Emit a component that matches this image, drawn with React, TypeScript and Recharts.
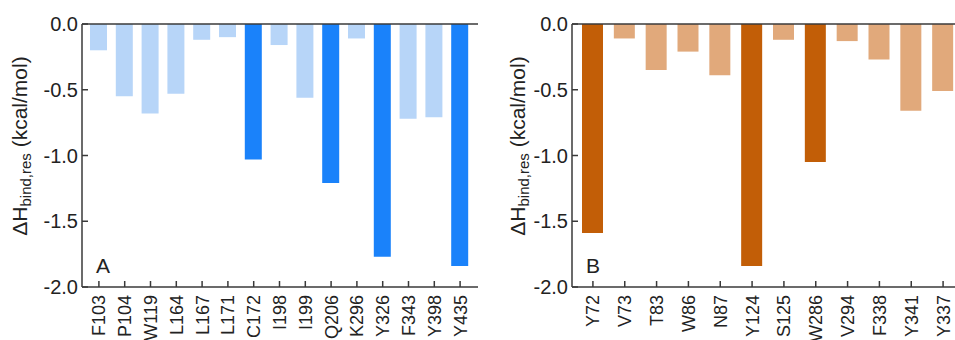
import { Bar, BarChart, Cell, ReferenceLine, XAxis, YAxis } from "recharts";

const residuesA = ["F103", "P104", "W119", "L164", "L167", "L171", "C172", "I198", "I199", "Q206", "K296", "Y326", "F343", "Y398", "Y435"];
const enthalpyA = [-0.2, -0.55, -0.68, -0.53, -0.12, -0.1, -1.03, -0.16, -0.56, -1.21, -0.11, -1.77, -0.72, -0.71, -1.84];
const hotA = ["C172", "Q206", "Y326", "Y435"];

const residuesB = ["Y72", "V73", "T83", "W86", "N87", "Y124", "S125", "W286", "V294", "F338", "Y341", "Y337"];
const enthalpyB = [-1.59, -0.11, -0.35, -0.21, -0.39, -1.84, -0.12, -1.05, -0.13, -0.27, -0.66, -0.51];
const hotB = ["Y72", "Y124", "W286"];

const yTicks = [0, -0.5, -1, -1.5, -2];

const FONT = '"Liberation Sans", Arial, sans-serif';
const AXIS = "#3a3a3a";
const TEXT = "#222";

function YTick({ x, y, payload }: any) {
  return (
    <g>
      <line x1={x} x2={x + 6} y1={y} y2={y} stroke={AXIS} strokeWidth={1.5} />
      <text x={x - 4} y={y} dy="0.36em" textAnchor="end" fontSize={20} fill={TEXT} fontFamily={FONT}>
        {Number(payload.value).toFixed(1)}
      </text>
    </g>
  );
}

function XTick({ x, y, payload }: any) {
  return (
    <g>
      <line x1={x} x2={x} y1={y} y2={y - 6} stroke={AXIS} strokeWidth={1.5} />
      <text
        x={x}
        y={y + 8}
        dy="0.36em"
        textAnchor="end"
        fontSize={18}
        fill={TEXT}
        fontFamily={FONT}
        transform={`rotate(-90, ${x}, ${y + 8})`}
      >
        {payload.value}
      </text>
    </g>
  );
}

interface PanelProps {
  residues: string[];
  values: number[];
  hot: string[];
  dark: string;
  light: string;
  letter: string;
  left: number;
  width: number;
  rightGap: number;
  barSize: number;
  pad: { left: number; right: number };
  titleX: number;
}

function Panel({ residues, values, hot, dark, light, letter, left, width, rightGap, barSize, pad, titleX }: PanelProps) {
  const data = residues.map((name, i) => ({ name, dh: values[i] }));
  return (
    <>
      <div style={{ position: "absolute", left, top: 0 }}>
        <BarChart width={width} height={340} data={data} margin={{ top: 24, right: rightGap, left: 0, bottom: 0 }}>
          <XAxis
            dataKey="name"
            interval={0}
            height={53}
            padding={pad}
            tickLine={false}
            tickSize={0}
            tickMargin={0}
            axisLine={{ stroke: AXIS, strokeWidth: 1.5 }}
            tick={<XTick />}
          />
          <YAxis
            type="number"
            domain={[-2, 0]}
            ticks={yTicks}
            width={82}
            tickLine={false}
            tickSize={0}
            tickMargin={0}
            axisLine={{ stroke: AXIS, strokeWidth: 1.5 }}
            tick={<YTick />}
          />
          <Bar dataKey="dh" barSize={barSize} isAnimationActive={false}>
            {data.map((d) => (
              <Cell key={d.name} fill={hot.includes(d.name) ? dark : light} />
            ))}
          </Bar>
          <ReferenceLine y={0} stroke={AXIS} strokeWidth={1.5} />
          <ReferenceLine
            y={-2}
            stroke="none"
            label={{ value: letter, position: "insideBottomLeft", offset: 14, fontSize: 21, fill: TEXT, fontFamily: FONT }}
          />
        </BarChart>
      </div>
      <div
        style={{
          position: "absolute",
          left: titleX,
          top: 146,
          transform: "translate(-50%, -50%) rotate(-90deg)",
          whiteSpace: "nowrap",
          fontFamily: FONT,
          fontSize: 21,
          color: TEXT,
          lineHeight: 1,
        }}
      >
        ΔH<sub style={{ fontSize: 15, verticalAlign: "-0.3em" }}>bind,res</sub> (kcal/mol)
      </div>
    </>
  );
}

export default function App() {
  return (
    <div style={{ position: "absolute", left: 0, top: 0, width: 955, height: 340, overflow: "hidden", background: "#fff" }}>
      <Panel
        residues={residuesA}
        values={enthalpyA}
        hot={hotA}
        dark="#1a82fa"
        light="#b7d5f8"
        letter="A"
        left={0}
        width={480}
        rightGap={2}
        barSize={17}
        pad={{ left: 4, right: 5 }}
        titleX={21}
      />
      <Panel
        residues={residuesB}
        values={enthalpyB}
        hot={hotB}
        dark="#c25e07"
        light="#e1a97b"
        letter="B"
        left={490}
        width={474}
        rightGap={0}
        barSize={21}
        pad={{ left: 5, right: 5 }}
        titleX={519}
      />
    </div>
  );
}
